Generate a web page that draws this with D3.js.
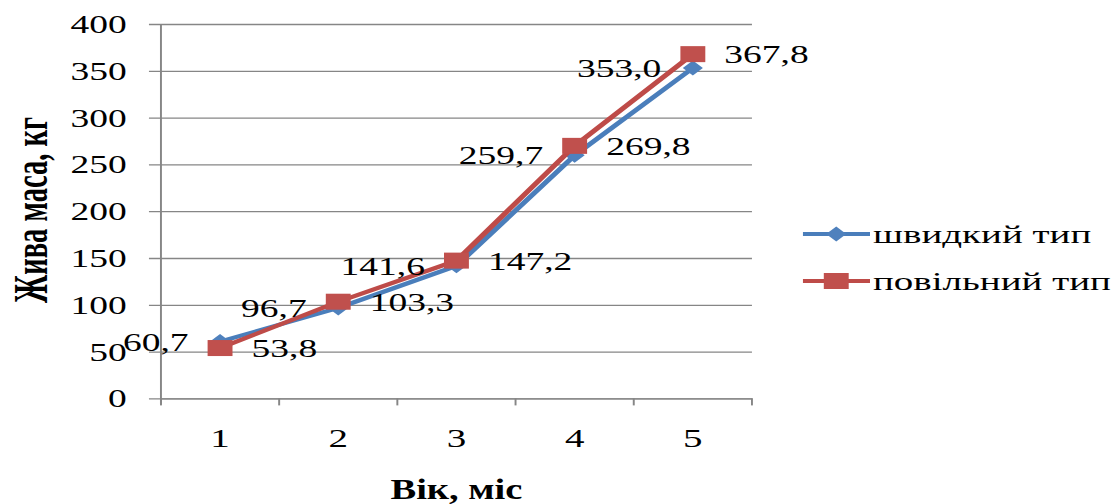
<!DOCTYPE html>
<html>
<head>
<meta charset="utf-8">
<script src="https://cdn.jsdelivr.net/npm/d3@7"></script>
<style>
  html, body { margin: 0; padding: 0; background: #fff; }
  svg { display: block; }
</style>
</head>
<body>
<svg id="chart"></svg>
<script>
// Live weight by age for two growth types
const months = ["1", "2", "3", "4", "5"];
const fastType = [60.7, 96.7, 141.6, 259.7, 353.0];   // швидкий тип
const slowType = [53.8, 103.3, 147.2, 269.8, 367.8];  // повільний тип
const yTicks = [0, 50, 100, 150, 200, 250, 300, 350, 400];
const seriesNames = ["швидкий тип", "повільний тип"];

const FONT = "\"Liberation Serif\", \"Times New Roman\", Tinos, \"DejaVu Serif\", serif";
const W = 1119, H = 504;
// Drawing space is laid out narrower and stretched to the full width.
const VW = 746;
const svg = d3.select("#chart")
  .attr("width", W).attr("height", H)
  .attr("viewBox", `0 0 ${VW} ${H}`)
  .attr("preserveAspectRatio", "none");

const plot = { left: 107.3, right: 501.3, top: 24, bottom: 398.4 };
const x = d3.scaleBand().domain(months).range([plot.left, plot.right]).padding(0);
const y = d3.scaleLinear().domain([0, 400]).range([plot.bottom, plot.top]);
const cx = d => x(d) + x.bandwidth() / 2;

const gridColor = "#868686";

function label(sel) {
  return sel.attr("font-family", null).style("font-family", FONT).attr("fill", "#000");
}

// Horizontal gridlines with outside ticks
const yAxis = d3.axisLeft(y).tickValues(yTicks).tickSize(plot.right - plot.left + 8);
const gy = svg.append("g").attr("transform", `translate(${plot.right},0)`).call(yAxis);
gy.select(".domain").remove();
gy.selectAll(".tick line").attr("stroke", gridColor).attr("stroke-width", 1.3);
gy.selectAll(".tick text").remove();

// Y tick labels
svg.append("g").selectAll("text").data(yTicks).join("text")
  .attr("x", 84.5).attr("y", d => y(d)).attr("dy", "0.36em")
  .attr("text-anchor", "end").attr("font-size", 25).text(d => d).call(label);

// Vertical axis line
svg.append("line").attr("x1", plot.left).attr("x2", plot.left)
  .attr("y1", plot.top).attr("y2", plot.bottom + 6)
  .attr("stroke", gridColor).attr("stroke-width", 1.3);

// X axis with category boundary ticks
const xAxis = d3.axisBottom(x).tickSize(0).tickFormat(d => d);
const gx = svg.append("g").attr("transform", `translate(0,${plot.bottom})`).call(xAxis);
gx.attr("font-family", null);
gx.select(".domain").attr("stroke", gridColor).attr("stroke-width", 1.3);
gx.selectAll(".tick text").attr("font-size", 26)
  .attr("y", 39).attr("dy", "0.36em").call(label);
const bounds = months.map(m => x(m)).concat([plot.right]);
svg.append("g").selectAll("line").data(bounds).join("line")
  .attr("x1", d => d).attr("x2", d => d)
  .attr("y1", plot.bottom).attr("y2", plot.bottom + 7)
  .attr("stroke", gridColor).attr("stroke-width", 1.3);

// Axis titles
svg.append("text")
  .attr("transform", `translate(31,210) rotate(-90)`)
  .attr("text-anchor", "middle").attr("font-weight", "bold").attr("font-size", 33)
  .attr("textLength", 186).attr("lengthAdjust", "spacingAndGlyphs")
  .text("Жива маса, кг").call(label);
svg.append("text")
  .attr("x", (plot.left + plot.right) / 2).attr("y", 499)
  .attr("text-anchor", "middle").attr("font-weight", "bold").attr("font-size", 30)
  .attr("textLength", 88).attr("lengthAdjust", "spacingAndGlyphs")
  .text("Вік, міс").call(label);

const blue = "#4A7EBB", blueMarker = "#4F81BD";
const red = "#BE4B48", redMarker = "#C0504D";
const line = d3.line().x((d, i) => cx(months[i])).y(d => y(d));

function diamond(g, px, py) {
  g.append("path")
    .attr("d", `M${px},${py - 7.5} L${px + 6.7},${py} L${px},${py + 7.5} L${px - 6.7},${py} Z`)
    .attr("fill", blueMarker);
}
function square(g, px, py) {
  g.append("rect").attr("x", px - 8.3).attr("y", py - 8).attr("width", 16.6).attr("height", 16)
    .attr("fill", redMarker);
}

// Fast type series
const sFast = svg.append("g");
sFast.append("path").datum(fastType).attr("d", line)
  .attr("fill", "none").attr("stroke", blue).attr("stroke-width", 4).attr("stroke-linejoin", "round");
fastType.forEach((v, i) => diamond(sFast, cx(months[i]), y(v)));

// Slow type series
const sSlow = svg.append("g");
sSlow.append("path").datum(slowType).attr("d", line)
  .attr("fill", "none").attr("stroke", red).attr("stroke-width", 4).attr("stroke-linejoin", "round");
slowType.forEach((v, i) => square(sSlow, cx(months[i]), y(v)));

// Value labels: fast type to the left, slow type to the right
const fmt = v => v.toFixed(1).replace(".", ",");
svg.append("g").selectAll("text").data(fastType).join("text")
  .attr("x", (d, i) => cx(months[i]) - 21).attr("y", d => y(d)).attr("dy", "0.36em")
  .attr("text-anchor", "end").attr("font-size", 25).text(fmt).call(label);
svg.append("g").selectAll("text").data(slowType).join("text")
  .attr("x", (d, i) => cx(months[i]) + 21).attr("y", d => y(d)).attr("dy", "0.36em")
  .attr("text-anchor", "start").attr("font-size", 25).text(fmt).call(label);

// Legend
const legend = svg.append("g");
const legendRows = [
  { name: seriesNames[0], color: blue, y: 234, mark: diamond },
  { name: seriesNames[1], color: red, y: 281, mark: square }
];
legendRows.forEach(r => {
  legend.append("line").attr("x1", 535.3).attr("x2", 580).attr("y1", r.y).attr("y2", r.y)
    .attr("stroke", r.color).attr("stroke-width", 4);
  r.mark(legend, 557.5, r.y);
  legend.append("text").attr("x", 582).attr("y", r.y).attr("dy", "0.36em")
    .attr("font-size", 26).text(r.name).call(label);
});
</script>
</body>
</html>
